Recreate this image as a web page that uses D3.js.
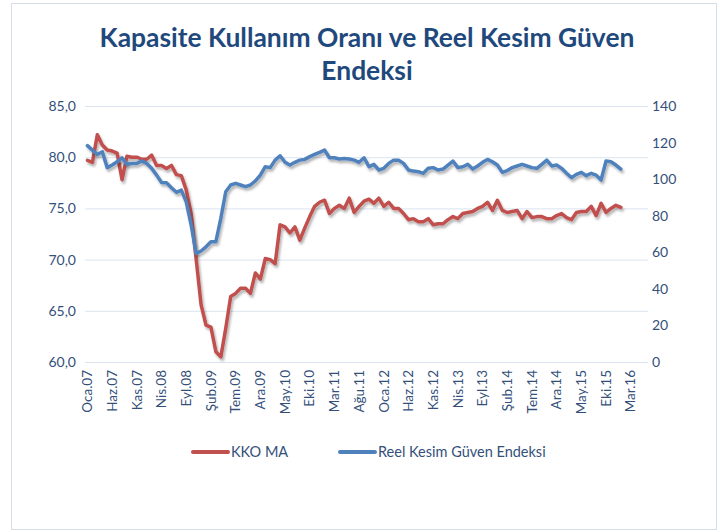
<!DOCTYPE html>
<html><head><meta charset="utf-8">
<script src="https://cdn.jsdelivr.net/npm/d3@7"></script>
<style>body{margin:0;background:#fff}svg{display:block}</style>
</head><body>
<svg id="c" width="720" height="532"></svg>
<script>
const monthNames = ["Oca","Şub","Mar","Nis","May","Haz","Tem","Ağu","Eyl","Eki","Kas","Ara"];
const years = ["07","08","09","10","11","12","13","14","15","16"];
const categoryCount = 114; // Oca.07 .. Haz.16
const categories = [];
for (const y of years) for (const m of monthNames) if (categories.length < categoryCount) categories.push(m + "." + y);
const xTickLabels = categories.filter((d, i) => i % 5 === 0);

const kkoMA = [
  79.7,79.5,82.2,81.2,80.7,80.6,80.4,77.8,80.1,80.0,80.0,79.8,
  79.8,80.2,79.2,79.2,78.9,79.2,78.3,78.2,76.8,74.5,70.1,65.6,
  63.6,63.4,61.0,60.5,63.3,66.4,66.7,67.2,67.2,66.7,68.7,68.1,
  70.1,70.0,69.6,73.4,73.2,72.6,73.2,71.9,73.1,74.2,75.2,75.6,
  75.8,74.5,75.0,75.3,75.0,76.0,74.6,75.2,75.7,75.9,75.5,76.0,
  75.2,75.6,75.0,75.0,74.5,73.9,74.0,73.7,73.7,74.0,73.4,73.5,
  73.5,73.9,74.2,74.0,74.5,74.6,74.7,75.0,75.2,75.6,74.8,75.8,
  74.8,74.6,74.7,74.8,74.0,74.7,74.1,74.2,74.2,74.0,74.0,74.3,
  74.5,74.1,73.9,74.6,74.7,74.7,75.2,74.3,75.5,74.6,75.0,75.3,
  75.1
];
const reelKesim = [
  118.3,115.9,113.5,115.0,106.3,107.7,109.5,111.7,108.1,108.6,108.6,109.9,
  108.6,105.9,102.2,98.2,98.0,95.3,92.8,94.0,87.6,74.9,59.4,60.7,
  63.0,65.8,65.8,78.6,93.1,96.8,97.7,96.8,95.9,96.8,99.0,102.2,
  106.8,106.3,110.4,112.8,109.2,107.7,109.2,110.4,110.8,112.3,113.5,114.6,
  115.9,111.7,111.7,111.0,111.3,111.0,110.4,109.2,111.7,106.8,108.1,105.0,
  105.9,108.6,110.4,110.4,108.6,105.0,104.4,104.1,103.2,105.9,106.3,105.0,
  105.5,107.7,109.9,106.3,106.8,108.1,105.5,107.2,109.2,110.8,109.5,107.7,
  103.7,104.7,106.3,107.2,108.1,107.2,106.3,105.9,108.1,110.4,107.2,107.7,
  105.9,103.2,100.8,102.6,103.7,101.9,103.2,102.2,99.5,109.9,109.5,107.7,
  105.5
];
const leftTicks = [60,65,70,75,80,85];
const rightTicks = [0,20,40,60,80,100,120,140];
const seriesNames = ["KKO MA","Reel Kesim Güven Endeksi"];
const titleLines = ["Kapasite Kullanım Oranı ve Reel Kesim Güven","Endeksi"];

const svg = d3.select("#c");
const textColor = "#34507a";
const red = "#c0504d", blue = "#4f81bd";
const L = 85, R = 648, T = 106, B = 362;

const defs = svg.append("defs");
const f = defs.append("filter").attr("id","sh").attr("x","-10%").attr("y","-10%").attr("width","120%").attr("height","130%");
f.append("feDropShadow").attr("dx",1.5).attr("dy",2.5).attr("stdDeviation",1.3).attr("flood-color","#000").attr("flood-opacity",0.3);

svg.append("rect").attr("x",11.5).attr("y",3.5).attr("width",705).attr("height",526)
  .attr("fill","#fff").attr("stroke","#d5dde8").attr("stroke-width",1);

// title
const t1 = svg.append("text").attr("x",367).attr("y",47).attr("text-anchor","middle")
  .style("font-family","Lato").style("font-weight","bold").style("font-size","30px")
  .attr("fill","#1f497d").text(titleLines[0]);
const w = t1.node().getComputedTextLength();
const fs = 30 * 535 / w;
t1.style("font-size", fs + "px");
svg.append("text").attr("x",367).attr("y",80).attr("text-anchor","middle")
  .style("font-family","Lato").style("font-weight","bold").style("font-size", fs + "px")
  .attr("fill","#1f497d").text(titleLines[1]);

const x = d3.scaleBand().domain(categories).range([L, R]);
const xc = d => x(d) + x.bandwidth() / 2;
const yL = d3.scaleLinear().domain([60, 85]).range([B, T]);
const yR = d3.scaleLinear().domain([0, 140]).range([B, T]);

// gridlines
svg.append("g").selectAll("line").data(leftTicks).join("line")
  .attr("x1", L).attr("x2", R).attr("y1", d => yL(d) + 0.5).attr("y2", d => yL(d) + 0.5)
  .attr("stroke", "#dae4f0").attr("stroke-width", 1);

const fmt = d => d3.format(".1f")(d).replace(".", ",");
const gl = svg.append("g").attr("transform", `translate(${L},0)`)
  .call(d3.axisLeft(yL).tickValues(leftTicks).tickFormat(fmt).tickSize(0).tickPadding(9));
const gr = svg.append("g").attr("transform", `translate(${R},0)`)
  .call(d3.axisRight(yR).tickValues(rightTicks).tickSize(0).tickPadding(4));
const gx = svg.append("g").attr("transform", `translate(0,${B})`)
  .call(d3.axisBottom(x).tickValues(xTickLabels).tickSize(0));
[gl, gr, gx].forEach(g => {
  g.select(".domain").remove();
  g.selectAll("text").attr("fill", textColor).style("font-family", "Lato").style("font-size", "14px");
});
gx.selectAll("text").attr("transform", "rotate(-90)").attr("x", -8).attr("y", 0).attr("dy", "0.35em")
  .style("text-anchor", "end").style("font-size", "13.5px");

// lines
const lineL = d3.line().x((d, i) => xc(categories[i])).y(d => yL(d));
const lineR = d3.line().x((d, i) => xc(categories[i])).y(d => yR(d));
svg.append("path").datum(kkoMA).attr("d", lineL).attr("fill", "none").attr("stroke", red)
  .attr("stroke-width", 3.5).attr("stroke-linejoin", "round").attr("stroke-linecap", "round").attr("filter", "url(#sh)");
svg.append("path").datum(reelKesim).attr("d", lineR).attr("fill", "none").attr("stroke", blue)
  .attr("stroke-width", 3.5).attr("stroke-linejoin", "round").attr("stroke-linecap", "round").attr("filter", "url(#sh)");

// legend
const leg = [{n: seriesNames[0], c: red, x: 193}, {n: seriesNames[1], c: blue, x: 340}];
leg.forEach(l => {
  svg.append("line").attr("x1", l.x).attr("x2", l.x + 35).attr("y1", 452).attr("y2", 452)
    .attr("stroke", l.c).attr("stroke-width", 4).attr("stroke-linecap", "round");
  svg.append("text").attr("x", l.x + 38).attr("y", 457).attr("fill", textColor)
    .style("font-family", "Lato").style("font-size", "14.5px").text(l.n);
});
</script>
</body></html>
